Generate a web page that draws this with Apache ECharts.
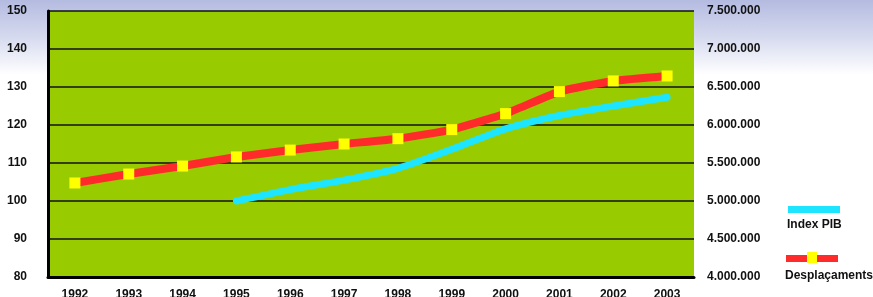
<!DOCTYPE html>
<html>
<head>
<meta charset="utf-8">
<script src="https://cdn.jsdelivr.net/npm/echarts@6/dist/echarts.min.js"></script>
<style>
  html, body { margin: 0; padding: 0; }
  body {
    width: 873px; height: 297px;
    background: linear-gradient(180deg, #b4bbe0 0px, #d4d8ee 35px, #ffffff 75px);
  }
  #chart { width: 873px; height: 297px; }
</style>
</head>
<body>
<div id="chart"></div>
<script>
const years = ["1992", "1993", "1994", "1995", "1996", "1997", "1998", "1999", "2000", "2001", "2002", "2003"];
// Index PIB (left axis, 1995 = 100)
const indexPib = [null, null, null, 100, 103, 105.5, 108.6, 113.6, 119, 122.5, 125, 127.3];
// Desplaçaments (right axis)
const desplacaments = [5237000, 5355000, 5460000, 5580000, 5670000, 5750000, 5820000, 5940000, 6150000, 6440000, 6580000, 6645000];
const leftTicks = { min: 80, max: 150, step: 10 };
const rightTicks = { min: 4000000, max: 7500000, step: 500000 };

function dots(v) {
  return String(v).replace(/\B(?=(\d{3})+(?!\d))/g, ".");
}

const font = { fontFamily: "Liberation Sans, Arial", fontWeight: "bold", fontSize: 12, color: "#111" };

let myChart = echarts.init(document.getElementById("chart"));
myChart.setOption({
  animation: false,
  grid: {
    left: 48, right: 179, top: 11, bottom: 20,
    outerBoundsMode: "none",
    show: true, backgroundColor: "#99cc00", borderWidth: 0
  },
  xAxis: {
    type: "category",
    data: years,
    boundaryGap: true,
    axisLine: { lineStyle: { color: "#000", width: 3 } },
    axisTick: { length: 10, lineStyle: { color: "#000", width: 1.5 } },
    axisLabel: Object.assign({ margin: 12, interval: 0 }, font)
  },
  yAxis: [
    {
      type: "value",
      min: leftTicks.min, max: leftTicks.max, interval: leftTicks.step,
      axisLine: { show: true, lineStyle: { color: "#000", width: 3 } },
      axisTick: { show: false },
      axisLabel: Object.assign({ margin: 21 }, font),
      splitLine: { lineStyle: { color: "#111", width: 1.5 } }
    },
    {
      type: "value",
      min: rightTicks.min, max: rightTicks.max, interval: rightTicks.step,
      axisLine: { show: false },
      axisTick: { show: false },
      splitLine: { show: false },
      axisLabel: Object.assign({ margin: 13, formatter: dots }, font)
    }
  ],
  series: [
    {
      name: "Index PIB",
      type: "line",
      yAxisIndex: 0,
      data: indexPib,
      smooth: 0.25,
      showSymbol: false,
      lineStyle: { color: "#1de4ff", width: 7, cap: "round" }
    },
    {
      name: "Desplaçaments",
      type: "line",
      yAxisIndex: 1,
      data: desplacaments,
      smooth: 0.15,
      symbol: "rect",
      symbolSize: 11,
      itemStyle: { color: "#ffff00" },
      lineStyle: { color: "#ff2b2b", width: 8 },
      z: 3
    }
  ],
  graphic: [
    { type: "rect", shape: { x: 788, y: 206, width: 52, height: 7 }, style: { fill: "#1de4ff" } },
    { type: "text", left: 787, top: 219, style: { text: "Index PIB", font: "bold 12px Liberation Sans, Arial", fill: "#111" } },
    { type: "rect", shape: { x: 786, y: 255, width: 52, height: 7 }, style: { fill: "#ff2b2b" } },
    { type: "rect", shape: { x: 807, y: 252, width: 10, height: 11 }, style: { fill: "#ffff00" } },
    { type: "text", left: 785, top: 270, style: { text: "Desplaçaments", font: "bold 12px Liberation Sans, Arial", fill: "#111" } }
  ]
});
</script>
</body>
</html>
